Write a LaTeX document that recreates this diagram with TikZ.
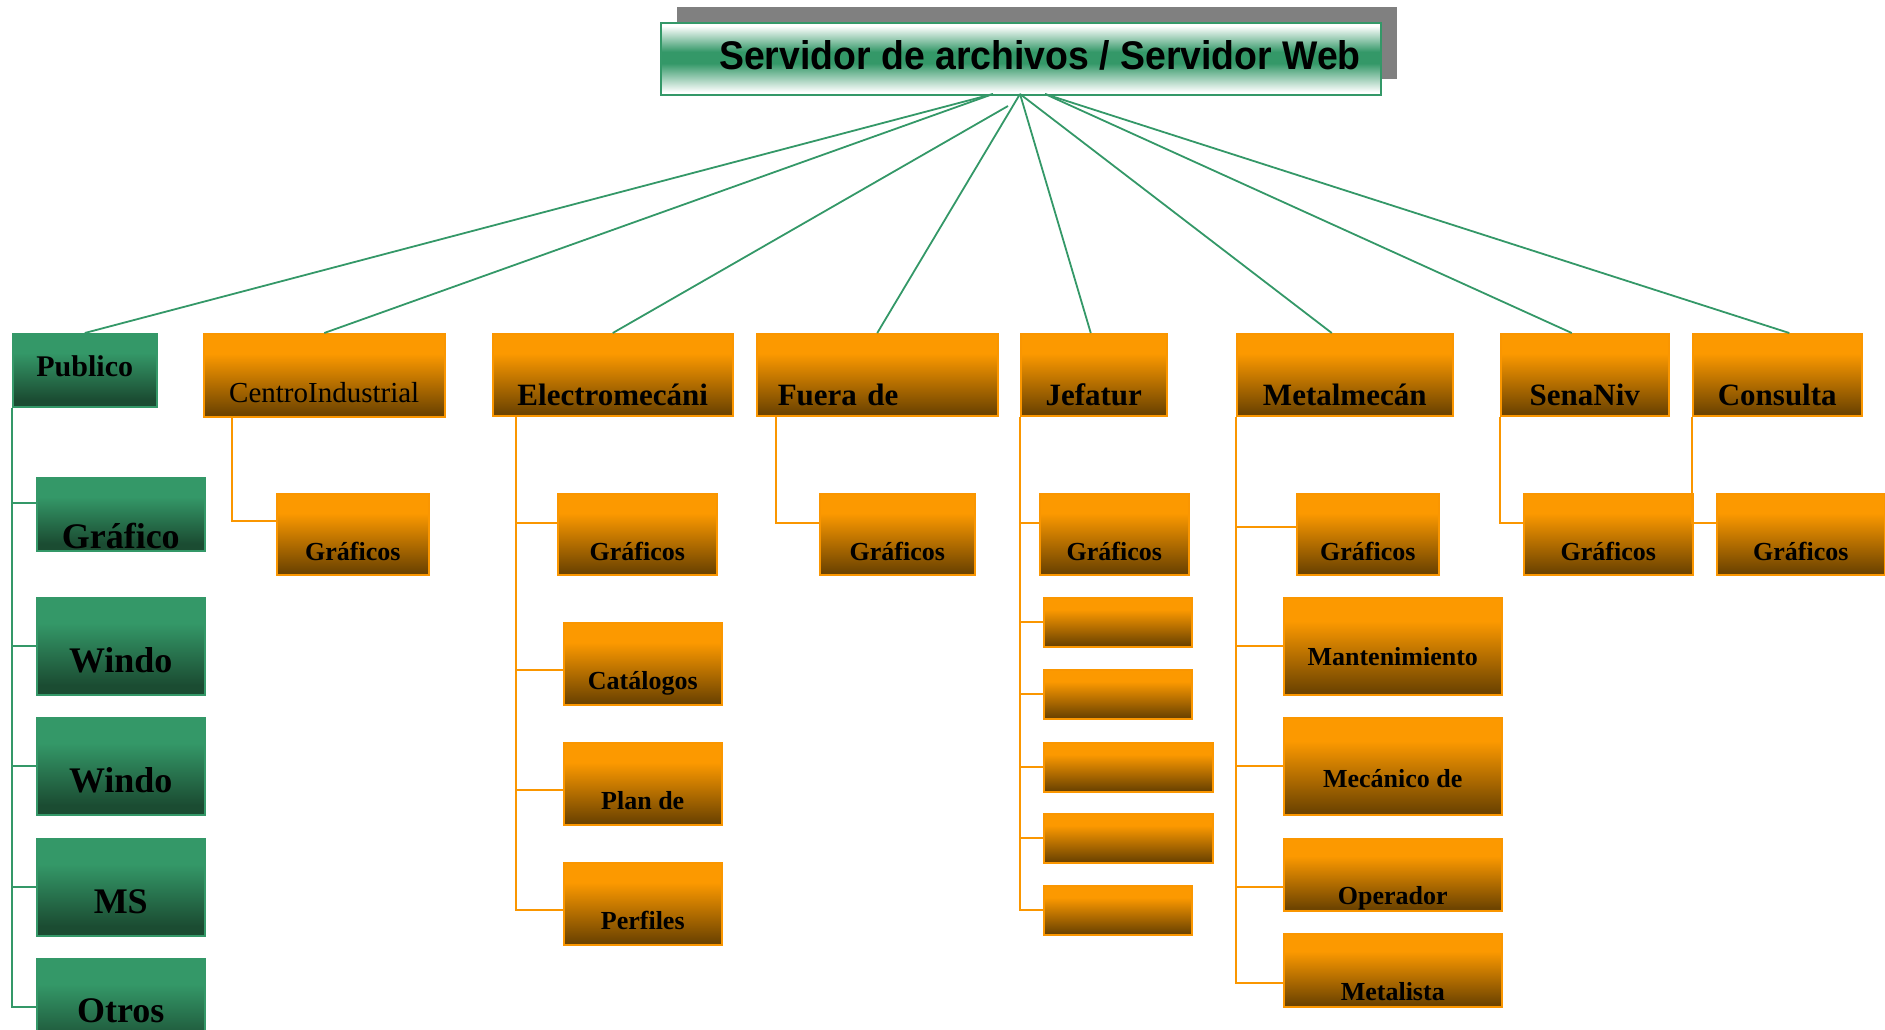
\documentclass[tikz,border=0pt]{standalone}
\usepackage{fontspec}
\setmainfont{Liberation Serif}
\setsansfont{Liberation Sans}
\usepackage{graphicx}
\usepackage{xcolor}
\usepackage{tikz}
\usetikzlibrary{shadows}

\definecolor{tgreen}{RGB}{52,152,104}
\definecolor{gdark}{RGB}{27,76,50}
\definecolor{oorange}{RGB}{252,153,0}
\definecolor{obrown}{RGB}{110,68,0}
\definecolor{obord}{RGB}{250,150,0}

\pgfdeclareverticalshading{titleshade}{100bp}{color(0bp)=(white); color(27bp)=(white); color(47bp)=(tgreen); color(55bp)=(tgreen); color(73bp)=(white); color(100bp)=(white)}
\pgfdeclareverticalshading{oshade}{100bp}{color(0bp)=(obrown); color(27bp)=(obrown); color(63bp)=(oorange); color(100bp)=(oorange)}
\pgfdeclareverticalshading{gshade}{100bp}{color(0bp)=(gdark); color(30bp)=(gdark); color(62bp)=(tgreen); color(100bp)=(tgreen)}

\begin{document}
\begin{tikzpicture}[
    x = .5pt,
    y = -.5pt,
    titlef/.style = {
      rectangle,
      draw=tgreen,
      line width=1pt,
      shade,
      shading=titleshade,
      drop shadow={shadow xshift=8pt, shadow yshift=8pt, fill=black!50, opacity=1},
      anchor=north west,
      inner sep=0pt,
      minimum width=360pt,
      text height=23.25pt,
      text depth=12.75pt,
      font=\sffamily\bfseries\fontsize{20pt}{23pt}\selectfont
    },
    lvlf/.style = {
      rectangle,
      draw=obord,
      line width=.75pt,
      shade,
      shading=oshade,
      anchor=north west,
      inner sep=0pt,
      text height=36pt,
      text depth=5pt,
      font=\bfseries\fontsize{15.5pt}{18pt}\selectfont
    },
    lvlg/.style = {
      lvlf,
      draw=tgreen,
      shading=gshade
    },
    childf/.style = {
      lvlf,
      text height=33.5pt,
      text depth=7pt,
      font=\bfseries\fontsize{13pt}{15pt}\selectfont
    },
    childg/.style = {
      lvlg,
      minimum width=84pt,
      text height=37.5pt,
      text depth=11pt,
      font=\bfseries\fontsize{18pt}{21pt}\selectfont
    },
    blankf/.style = {
      lvlf,
      text height=0pt,
      text depth=0pt,
      minimum height=24.5pt
    },
    glink/.style = {
      draw=tgreen,
      line width=.9pt
    },
    olink/.style = {
      draw=obord,
      line width=.8pt
    }
  ]
    \useasboundingbox (0,0) rectangle (1885,1029);

    % root
    \node[titlef] (srv) at (660,22) {\hspace*{19pt}\scalebox{.935}[1]{Servidor de archivos / Servidor Web}};
    \coordinate (hubl) at (993,94);
    \coordinate (hube) at (1008,106);
    \coordinate (hubm) at (1020,94);
    \coordinate (hubr) at (1045,94);

    % first level
    \node[lvlg, minimum width=72pt, text height=21.5pt, text depth=15pt,
      font=\bfseries\fontsize{15pt}{18pt}\selectfont] (pub) at (12,333) {Publico};
    \node[lvlf, minimum width=120.5pt, text height=34.5pt, text depth=7pt,
      font=\fontsize{14.5pt}{17pt}\selectfont] (cen) at (203,333) {CentroIndustrial};
    \node[lvlf, minimum width=120pt] (ele) at (492,333) {Electromecáni};
    \node[lvlf, inner xsep=10.5pt, text width=99.5pt, align=left] (fue) at (756,333) {Fuera de};
    \node[lvlf, minimum width=73pt] (jef) at (1020,333) {Jefatur};
    \node[lvlf, minimum width=108pt] (met) at (1236,333) {Metalmecán};
    \node[lvlf, minimum width=84pt] (sen) at (1500,333) {SenaNiv};
    \node[lvlf, minimum width=84.5pt] (con) at (1692,333) {Consulta};

    % Publico
    \node[childg, text height=35.5pt, text depth=1pt] (pgra) at (36,477) {Gráfico};
    \node[childg] (pwin1) at (36,597) {Windo};
    \node[childg] (pwin2) at (36,717) {Windo};
    \node[childg] (pms) at (36,838) {MS};
    \node[childg, text height=32pt, text depth=16.5pt] (potr) at (36,958) {Otros};

    % Graficos row
    \node[childf, minimum width=76pt] (cgra) at (276,493) {Gráficos};
    \node[childf, minimum width=79.5pt] (egra) at (557,493) {Gráficos};
    \node[childf, minimum width=77.5pt] (fgra) at (819,493) {Gráficos};
    \node[childf, minimum width=74.5pt] (jgra) at (1039,493) {Gráficos};
    \node[childf, minimum width=71pt] (mgra) at (1296,493) {Gráficos};
    \node[childf, minimum width=84.5pt] (sgra) at (1523,493) {Gráficos};
    \node[childf, minimum width=84pt] (kgra) at (1716,493) {Gráficos};

    % Electromecanica
    \node[childf, minimum width=79pt, text depth=7.5pt] (ecat) at (563,622) {Catálogos};
    \node[childf, minimum width=79pt, text depth=7.5pt] (epla) at (563,742) {Plan de};
    \node[childf, minimum width=79pt, text depth=7.5pt] (eper) at (563,862) {Perfiles};

    % Jefatura
    \node[blankf, minimum width=74pt] (jb1) at (1043,597) {};
    \node[blankf, minimum width=74pt] (jb2) at (1043,669) {};
    \node[blankf, minimum width=84.5pt] (jb3) at (1043,742) {};
    \node[blankf, minimum width=84.5pt] (jb4) at (1043,813) {};
    \node[blankf, minimum width=74pt] (jb5) at (1043,885) {};

    % Metalmecanica
    \node[childf, minimum width=109pt, text height=34pt, text depth=14.5pt] (mman) at (1283,597) {Mantenimiento};
    \node[childf, minimum width=109pt, text height=35pt, text depth=13.5pt] (mmec) at (1283,717) {Mecánico de};
    \node[childf, minimum width=109pt, text height=33pt, text depth=3pt] (mope) at (1283,838) {Operador};
    \node[childf, minimum width=109pt, text height=33.5pt, text depth=3pt] (mmet) at (1283,933) {Metalista};

    % root links
    \draw[glink] (hubl) -- (pub.north);
    \draw[glink] (hubl) -- (cen.north);
    \draw[glink] (hube) -- (ele.north);
    \draw[glink] (hubm) -- (fue.north);
    \draw[glink] (hubm) -- ([xshift=-1.5pt]jef.north);
    \draw[glink] (hubm) -- ([xshift=-6.5pt]met.north);
    \draw[glink] (hubr) -- ([xshift=-6.5pt]sen.north);
    \draw[glink] (hubr) -- ([xshift=6pt]con.north);

    % Publico links
    \draw[glink] (pub.south west) |- ([yshift=5.75pt]pgra.west);
    \draw[glink] (pub.south west) |- (pwin1.west);
    \draw[glink] (pub.south west) |- (pwin2.west);
    \draw[glink] (pub.south west) |- (pms.west);
    \draw[glink] (pub.south west) |- (potr.west);

    % orange links
    \draw[olink] ([xshift=14.5pt]cen.south west) |- ([yshift=6.75pt]cgra.west);
    \draw[olink] ([xshift=12pt]ele.south west) |- ([yshift=5.75pt]egra.west);
    \draw[olink] ([xshift=12pt]ele.south west) |- ([yshift=-3pt]ecat.west);
    \draw[olink] ([xshift=12pt]ele.south west) |- ([yshift=-3pt]epla.west);
    \draw[olink] ([xshift=12pt]ele.south west) |- ([yshift=-3pt]eper.west);
    \draw[olink] ([xshift=10pt]fue.south west) |- ([yshift=5.75pt]fgra.west);
    \draw[olink] (jef.south west) |- ([yshift=5.75pt]jgra.west);
    \draw[olink] (jef.south west) |- (jb1.west);
    \draw[olink] (jef.south west) |- (jb2.west);
    \draw[olink] (jef.south west) |- (jb3.west);
    \draw[olink] (jef.south west) |- (jb4.west);
    \draw[olink] (jef.south west) |- (jb5.west);
    \draw[olink] (met.south west) |- ([yshift=3.75pt]mgra.west);
    \draw[olink] (met.south west) |- (mman.west);
    \draw[olink] (met.south west) |- (mmec.west);
    \draw[olink] (met.south west) |- ([yshift=-6pt]mope.west);
    \draw[olink] (met.south west) |- ([yshift=-6.25pt]mmet.west);
    \draw[olink] (sen.south west) |- ([yshift=5.75pt]sgra.west);
    \draw[olink] (con.south west) |- ([yshift=5.75pt]kgra.west);
  \end{tikzpicture}
\end{document}
